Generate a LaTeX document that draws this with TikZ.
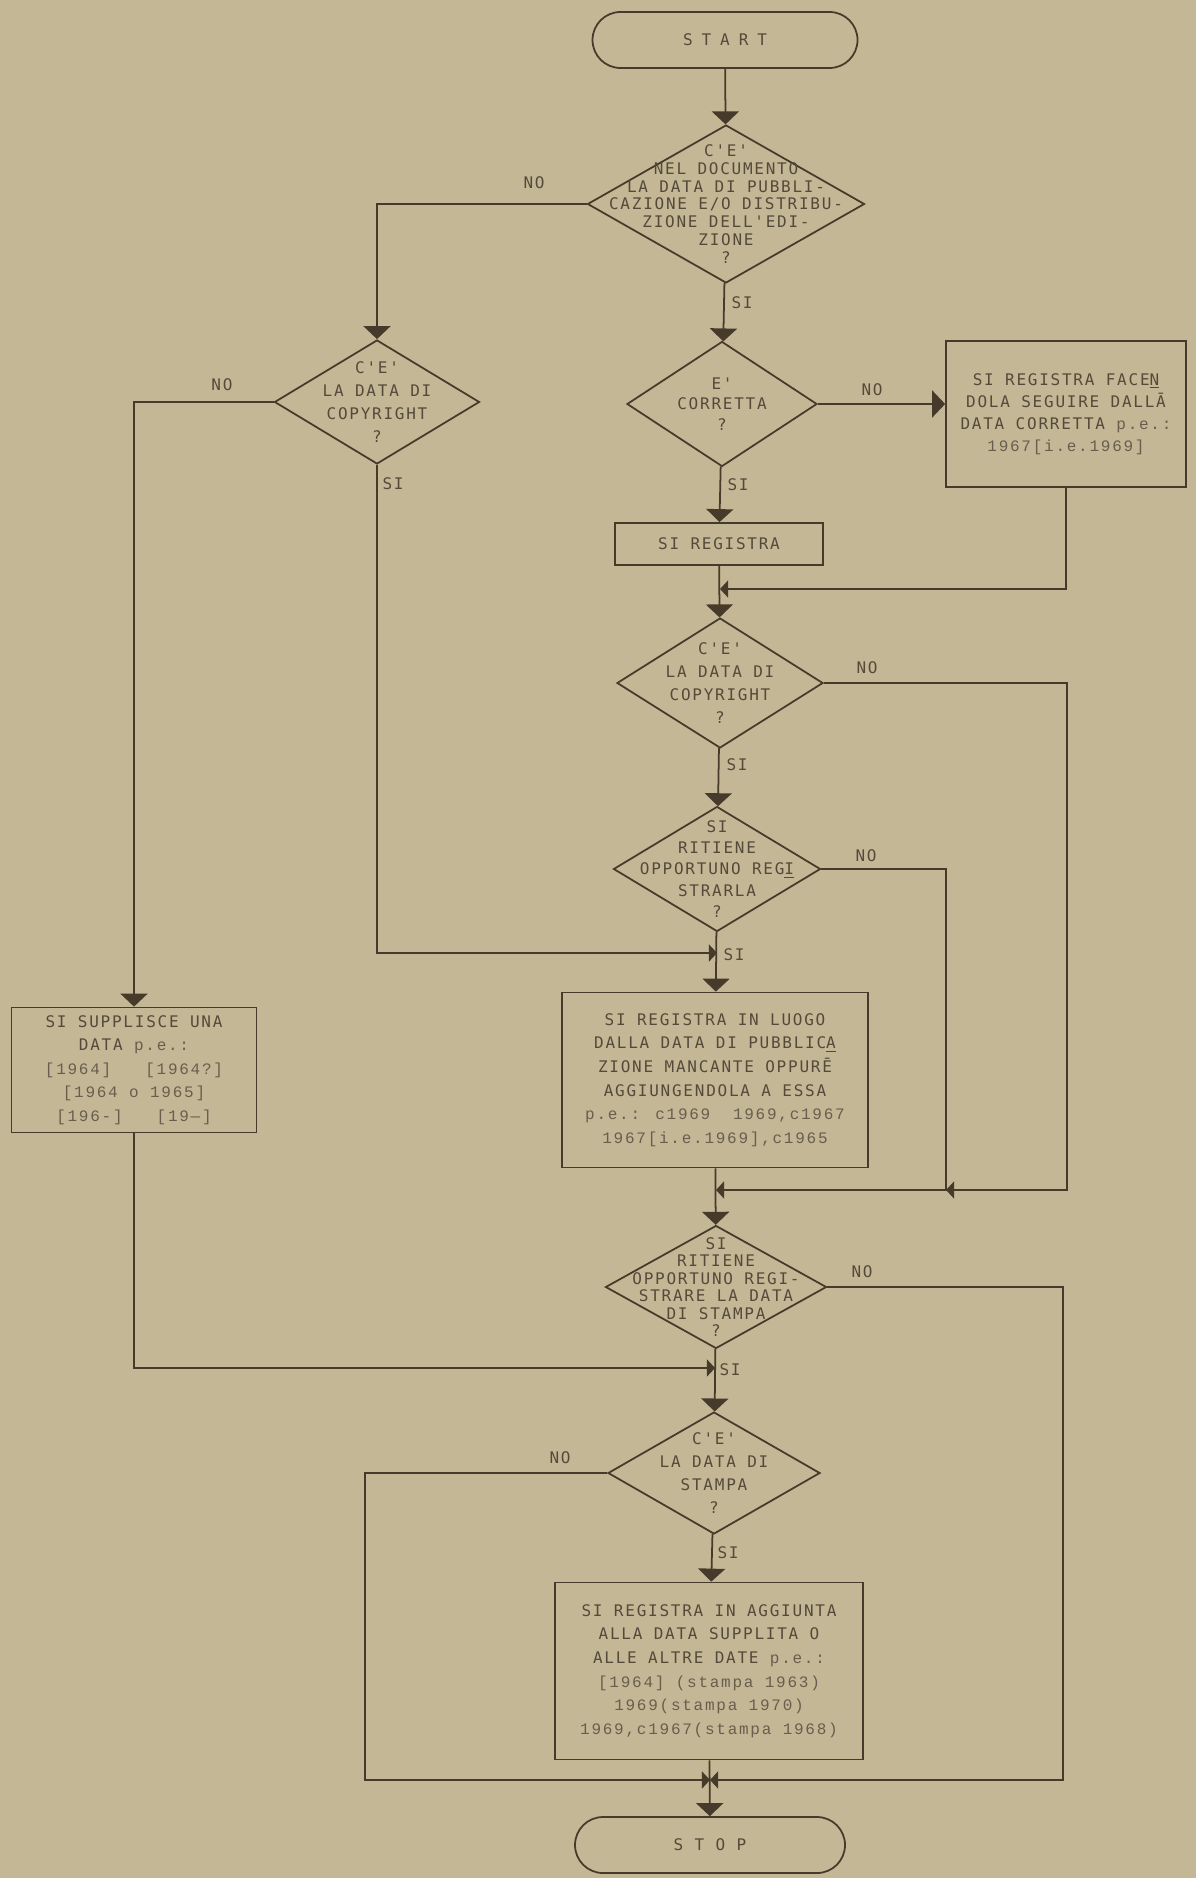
\documentclass[tikz,border=0pt]{standalone}
\usepackage{fontspec}
\usetikzlibrary{shapes.geometric,arrows.meta}

\newfontfamily\twf{DejaVu Sans Mono}[LetterSpace=11]
\newfontfamily\twwide{DejaVu Sans Mono}[LetterSpace=56]
\newfontfamily\tdf{Liberation Mono}[LetterSpace=11]

\definecolor{paper}{RGB}{196,183,150}
\definecolor{ink}{RGB}{70,58,42}
\definecolor{type}{RGB}{84,74,58}
\definecolor{typelight}{RGB}{104,94,78}

\newcommand{\pxu}{0.02cm}
\newcommand{\qfont}[1]{\twf\fontsize{9.1pt}{#1pt}\selectfont}
\newcommand{\dt}[1]{{\color{typelight}\tdf #1}}

\begin{document}
\begin{tikzpicture}[x=0.02cm, y=-0.02cm,
    wire/.style={draw=ink, line width=1pt},
    arr/.style={wire, -{Triangle[width=15.4pt,length=7.4pt]}},
    arrs/.style={wire, -{Triangle[width=9.7pt,length=4.6pt]}},
    ask/.style 2 args={diamond, wire, inner sep=0pt,
      minimum width=#1*\pxu, minimum height=#2*\pxu},
    act/.style 2 args={rectangle, wire, inner sep=0pt, align=center, text=type,
      minimum width=#1*\pxu, minimum height=#2*\pxu},
    term/.style={rectangle, wire, rounded corners=0.56cm, text=type,
      minimum width=#1*\pxu, minimum height=56*\pxu},
    qtext/.style={align=center, inner sep=0pt, text=type},
    lab/.style={inner sep=0pt, text=type, font=\qfont{12}},
  ]
  \useasboundingbox (0,0) rectangle (1196,1878);
  \fill[paper] (0,0) rectangle (1196,1878);

  % terminals
  \node[term=265, font=\twwide\fontsize{9.1pt}{11pt}\selectfont] (start) at (725,40) {START};
  \node[term=270, font=\qfont{11}] (stop) at (710,1845) {S T O P};

  % decisions
  \node[ask={277}{158}] (d1) at (726,204) {};
  \node[qtext, font=\qfont{10.2}] (d1t) at (d1.center)
    {C'E'\\NEL DOCUMENTO\\LA DATA DI PUBBLI-\\CAZIONE E/O DISTRIBU-\\ZIONE DELL'EDI-\\ZIONE\\?};
  \node[ask={205}{124}] (d2) at (377,402) {};
  \node[qtext, font=\qfont{13.1}] (d2t) at (d2.center) {C'E'\\LA DATA DI\\COPYRIGHT\\?};
  \node[ask={190}{125}] (d3) at (722,404) {};
  \node[qtext, font=\qfont{11.5}] (d3t) at (d3.center) {E'\\CORRETTA\\?};
  \node[ask={206}{130}] (d4) at (720,683) {};
  \node[qtext, font=\qfont{13.1}] (d4t) at (d4.center) {C'E'\\LA DATA DI\\COPYRIGHT\\?};
  \node[ask={207}{125}] (d5) at (717,869) {};
  \node[qtext, font=\qfont{12}] (d5t) at (d5.center)
    {SI\\RITIENE\\OPPORTUNO REG\underline{I}\\STRARLA\\?};
  \node[ask={221}{123}] (d6) at (716,1287) {};
  \node[qtext, font=\qfont{10}] (d6t) at (d6.center)
    {SI\\RITIENE\\OPPORTUNO REGI-\\STRARE LA DATA\\DI STAMPA\\?};
  \node[ask={212}{122}] (d7) at (714,1473) {};
  \node[qtext, font=\qfont{13.1}] (d7t) at (d7.center) {C'E'\\LA DATA DI\\STAMPA\\?};

  % actions
  \node[act={240}{146}, font=\qfont{12.6}] (b1) at (1066,414)
    {SI REGISTRA FACE\underline{N}\\DOLA SEGUIRE DALLĀ\\DATA CORRETTA \dt{p.e.:}\\\dt{1967[i.e.1969]}};
  \node[act={208}{42}, font=\qfont{12}] (b2) at (719,544) {SI REGISTRA};
  \node[act={245}{125}, font=\qfont{13.4}] (b4) at (134,1070)
    {SI SUPPLISCE UNA\\DATA \dt{p.e.:}\\\dt{[1964]\ \ \ [1964?]}\\\dt{[1964 o 1965]}\\\dt{[196-]\ \ \ [19—]}};
  \node[act={306}{175}, font=\qfont{13.4}] (b3) at (715,1080)
    {SI REGISTRA IN LUOGO\\DALLA DATA DI PUBBLIC\underline{A}\\ZIONE MANCANTE OPPURĒ\\AGGIUNGENDOLA A ESSA\\\dt{p.e.: c1969\ \ 1969,c1967}\\\dt{1967[i.e.1969],c1965}};
  \node[act={308}{177}, font=\qfont{13.4}] (b5) at (709,1671)
    {SI REGISTRA IN AGGIUNTA\\ALLA DATA SUPPLITA O\\ALLE ALTRE DATE \dt{p.e.:}\\\dt{[1964] (stampa 1963)}\\\dt{1969(stampa 1970)}\\\dt{1969,c1967(stampa 1968)}};

  % branch labels
  \node[lab] (no1) at (534,183) {NO};
  \node[lab] (si1) at (742,303) {SI};
  \node[lab] (no2) at (222,385) {NO};
  \node[lab] (si2) at (393,484) {SI};
  \node[lab] (no3) at (872,390) {NO};
  \node[lab] (si3) at (738,485) {SI};
  \node[lab] (no4) at (867,668) {NO};
  \node[lab] (si4) at (737,765) {SI};
  \node[lab] (no5) at (866,856) {NO};
  \node[lab] (si5) at (734,955) {SI};
  \node[lab] (no6) at (862,1272) {NO};
  \node[lab] (si6) at (730,1370) {SI};
  \node[lab] (no7) at (560,1458) {NO};
  \node[lab] (si7) at (728,1553) {SI};

  % junctions
  \coordinate (j1) at (720,589);
  \coordinate (j2) at (717,953);
  \coordinate (j3) at (716,1190);
  \coordinate (j3b) at (946,1190);
  \coordinate (rail1) at (1067,1190);
  \coordinate (j4) at (715,1368);
  \coordinate (j5) at (710,1780);
  \coordinate (rail2) at (1063,1780);
  \coordinate (rail3) at (365,1780);

  % main column
  \draw[arr] (start) -- (d1);
  \draw[arr] (d1) -- (d3);
  \draw[arr] (d3) -- (b2);
  \draw[arr] (b2) -- (d4);
  \draw[arr] (d4) -- (d5);
  \draw[arr] (d5) -- (b3);
  \draw[arr] (b3) -- (d6);
  \draw[arr] (d6) -- (d7);
  \draw[arr] (d7) -- (b5);
  \draw[arr] (b5) -- (stop);

  % side branches
  \draw[arr] (d1.west) -| (d2.north);
  \draw[arr] (d2.west) -| (b4.north);
  \draw[arr] (d3.east) -- (d3.east -| b1.west);
  \draw[arrs] (b1.south) |- (j1);
  \draw[arrs] (d2.south) |- (j2);
  \draw[arrs] (d4.east) -| (rail1) -- (j3b);
  \draw[arrs] (d5.east) -| (j3b) -- (j3);
  \draw[arrs] (b4.south) |- (j4);
  \draw[arrs] (d6.east) -| (rail2) -- (j5);
  \draw[arrs] (d7.west) -| (rail3) -- (j5);
\end{tikzpicture}
\end{document}
